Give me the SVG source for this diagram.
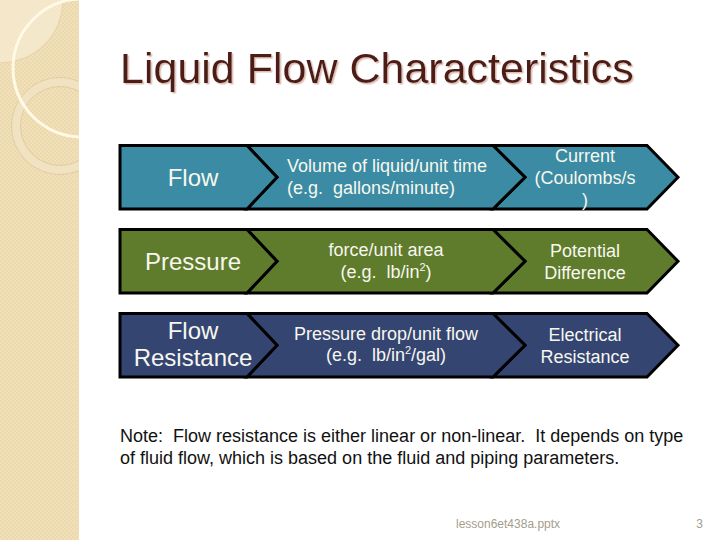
<svg xmlns="http://www.w3.org/2000/svg" width="720" height="540" viewBox="0 0 720 540">
  <defs>
    <pattern id="chk" width="4" height="4" patternUnits="userSpaceOnUse">
      <rect width="4" height="4" fill="#F1E1BA"/>
      <rect width="2" height="2" fill="#EBD8AC"/>
      <rect x="2" y="2" width="2" height="2" fill="#EBD8AC"/>
    </pattern>
    <clipPath id="stripClip"><rect x="0" y="0" width="79" height="540"/></clipPath>
    <filter id="shadow" x="-5%" y="-20%" width="110%" height="140%">
      <feDropShadow dx="1.5" dy="1.5" stdDeviation="0.4" flood-color="#DDBDB3" flood-opacity="1"/>
    </filter>
  </defs>
  <style>
    .shape { stroke: #000; stroke-width: 3; stroke-linejoin: miter; }
    .teal { fill: #3A8BA3; }
    .olive { fill: #5F7B2C; }
    .navy { fill: #354572; }
    .lbl { font-family: "Liberation Sans", Arial, sans-serif; fill: #F7F7EE; text-anchor: middle; }
    .big { font-size: 24px; }
    .mid { font-size: 18px; }
    .note { font-family: "Liberation Sans", Arial, sans-serif; font-size: 18px; fill: #111; }
    .foot { font-family: "Liberation Sans", Arial, sans-serif; font-size: 12px; fill: #A39E8C; }
  </style>

  <rect x="0" y="0" width="720" height="540" fill="#FFFFFF"/>

  <!-- decorative left strip -->
  <g id="strip" clip-path="url(#stripClip)">
    <rect x="0" y="0" width="79" height="540" fill="url(#chk)"/>
    <circle cx="0" cy="0" r="63" fill="#F6ECD6" fill-opacity="0.7" stroke="#E6D2A8" stroke-width="1"/>
    <circle cx="60" cy="126" r="44" fill="none" stroke="#F1E3C2" stroke-width="9"/>
    <circle cx="60" cy="126" r="48.5" fill="none" stroke="#DCC69A" stroke-width="0.8"/>
    <circle cx="60" cy="126" r="39.5" fill="none" stroke="#DCC69A" stroke-width="0.8"/>
    <circle cx="82" cy="68" r="69" fill="none" stroke="#FFF9E6" stroke-width="3"/>
  </g>

  <!-- title -->
  <g id="title">
    <text x="120" y="82.5" font-family="Liberation Sans, Arial, sans-serif" font-size="43" fill="#4E1D12" filter="url(#shadow)">Liquid Flow Characteristics</text>
  </g>

  <!-- Row 1 -->
  <g id="row1-current">
    <path class="shape teal" d="M493,145.5 H647 L678,177.3 L647,209 H493 L525,177.3 Z"/>
    <text class="lbl mid" x="585" y="162">Current</text>
    <text class="lbl mid" x="585" y="184">(Coulombs/s</text>
    <text class="lbl mid" x="585" y="206">)</text>
  </g>
  <g id="row1-def">
    <path class="shape teal" d="M247,145.5 H493 L525,177.3 L493,209 H247 L277,177.3 Z"/>
    <text class="lbl mid" x="287" y="172" style="text-anchor:start">Volume of liquid/unit time</text>
    <text class="lbl mid" x="287" y="194" style="text-anchor:start" xml:space="preserve">(e.g.  gallons/minute)</text>
  </g>
  <g id="row1-flow">
    <path class="shape teal" d="M120,145.5 H247 L277,177.3 L247,209 H120 Z"/>
    <text class="lbl big" x="193" y="186">Flow</text>
  </g>

  <!-- Row 2 -->
  <g id="row2-potential">
    <path class="shape olive" d="M493,229.5 H647 L678,261.3 L647,293 H493 L525,261.3 Z"/>
    <text class="lbl mid" x="585" y="257">Potential</text>
    <text class="lbl mid" x="585" y="279">Difference</text>
  </g>
  <g id="row2-def">
    <path class="shape olive" d="M247,229.5 H493 L525,261.3 L493,293 H247 L277,261.3 Z"/>
    <text class="lbl mid" x="386" y="256">force/unit area</text>
    <text class="lbl mid" x="386" y="278" xml:space="preserve">(e.g.  lb/in<tspan font-size="11" dy="-7">2</tspan><tspan dy="7">)</tspan></text>
  </g>
  <g id="row2-pressure">
    <path class="shape olive" d="M120,229.5 H247 L277,261.3 L247,293 H120 Z"/>
    <text class="lbl big" x="193" y="270">Pressure</text>
  </g>

  <!-- Row 3 -->
  <g id="row3-electrical">
    <path class="shape navy" d="M493,313.5 H647 L678,345.3 L647,377 H493 L525,345.3 Z"/>
    <text class="lbl mid" x="585" y="341">Electrical</text>
    <text class="lbl mid" x="585" y="363">Resistance</text>
  </g>
  <g id="row3-def">
    <path class="shape navy" d="M247,313.5 H493 L525,345.3 L493,377 H247 L277,345.3 Z"/>
    <text class="lbl mid" x="386" y="340">Pressure drop/unit flow</text>
    <text class="lbl mid" x="386" y="361" xml:space="preserve">(e.g.  lb/in<tspan font-size="11" dy="-7">2</tspan><tspan dy="7">/gal)</tspan></text>
  </g>
  <g id="row3-resistance">
    <path class="shape navy" d="M120,313.5 H247 L277,345.3 L247,377 H120 Z"/>
    <text class="lbl big" x="193" y="339">Flow</text>
    <text class="lbl big" x="193" y="366">Resistance</text>
  </g>

  <g id="connectors"></g>

  <!-- note -->
  <g id="note">
    <text class="note" x="120" y="442" xml:space="preserve">Note:  Flow resistance is either linear or non-linear.  It depends on type</text>
    <text class="note" x="120" y="464">of fluid flow, which is based on the fluid and piping parameters.</text>
  </g>

  <!-- footer -->
  <g id="footer">
    <text class="foot" x="456" y="528">lesson6et438a.pptx</text>
    <text class="foot" x="703" y="528" text-anchor="end">3</text>
  </g>
</svg>
